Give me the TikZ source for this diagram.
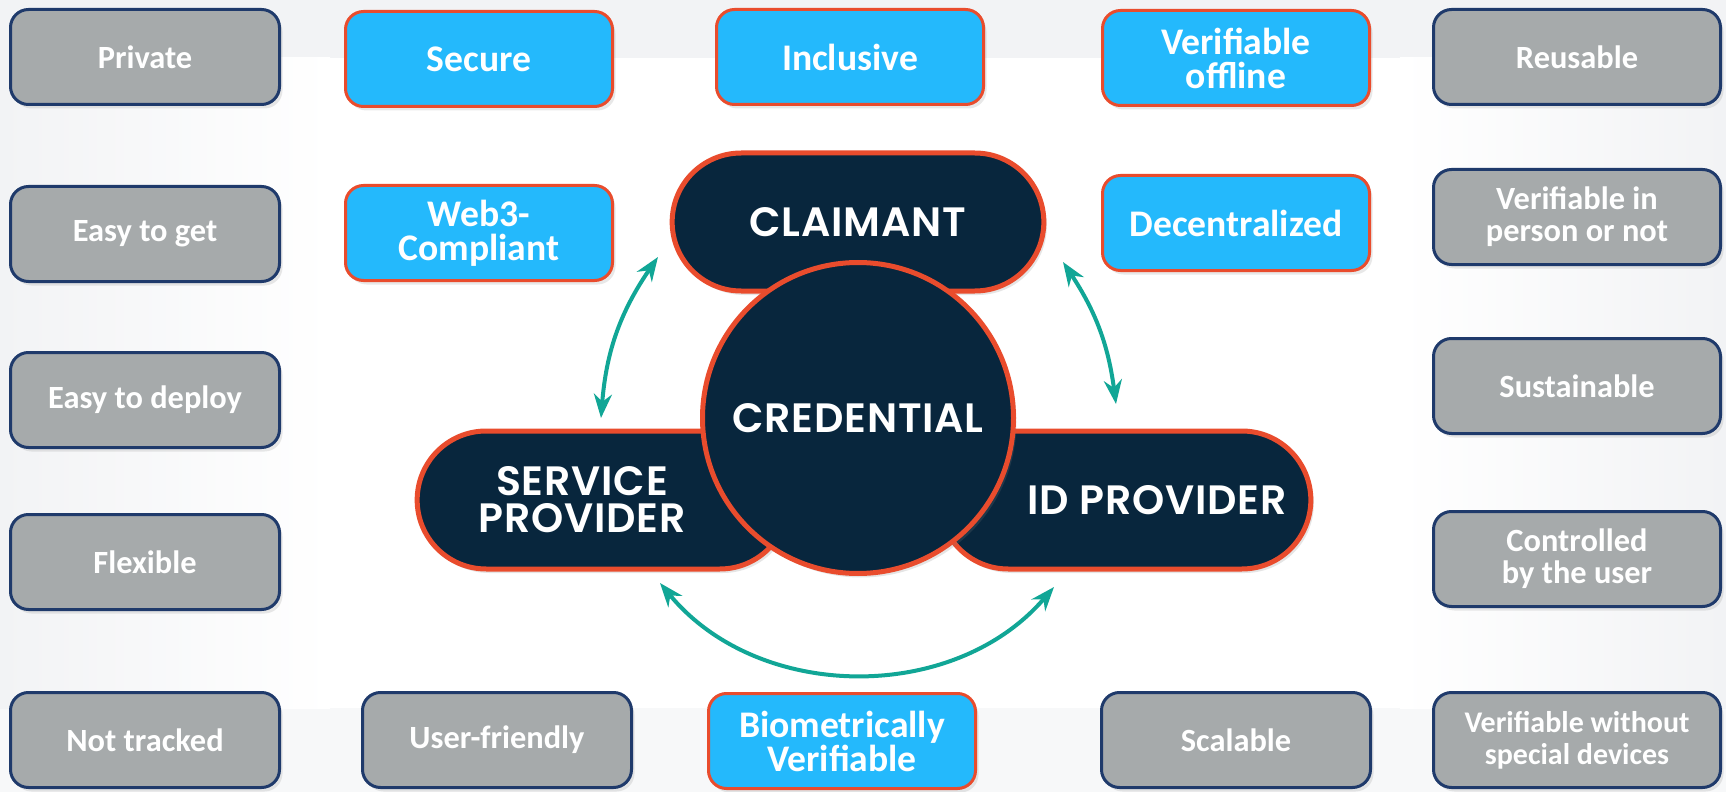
\documentclass[tikz,border=0pt]{standalone}
\usepackage{fontspec}
\setmainfont{Carlito}
\newfontfamily\hubfont{Poppins}[UprightFont=* SemiBold, LetterSpace=2]
\usetikzlibrary{arrows.meta, positioning, shapes.misc, shadows}
\definecolor{cardgray}{RGB}{166,170,171}
\definecolor{cardedge}{RGB}{31,58,107}
\definecolor{featblue}{RGB}{36,185,252}
\definecolor{hubred}{RGB}{233,76,45}
\definecolor{hubnavy}{RGB}{8,38,61}
\definecolor{linkteal}{RGB}{17,166,150}
\definecolor{bgtint}{RGB}{242,243,245}

\begin{document}
\begin{tikzpicture}[
    x=0.5pt, y=-0.5pt,
    card/.style={rounded corners=9pt, line width=1.5pt, minimum height=47.5pt, text=white, align=center,
        drop shadow={shadow xshift=1.5pt, shadow yshift=-2pt, opacity=0.18}},
    trait/.style={card, draw=cardedge, fill=cardgray, minimum width=134.5pt, font=\fontsize{16.2}{16}\selectfont\bfseries},
    traitwide/.style={trait, minimum width=143.5pt},
    feature/.style={card, draw=hubred, fill=featblue, minimum width=133.5pt, font=\fontsize{18.8}{17}\selectfont\bfseries},
    role/.style={rounded rectangle, draw=hubred, fill=hubnavy, line width=2.5pt, minimum width=192.5pt, minimum height=69pt,
        drop shadow={shadow xshift=1.5pt, shadow yshift=-2pt, opacity=0.2}},
    hub/.style={circle, draw=hubred, fill=hubnavy, line width=2.5pt, minimum size=155.5pt,
        drop shadow={shadow xshift=1.5pt, shadow yshift=-2pt, opacity=0.2}},
    roletext/.style={text=white, align=center, font=\hubfont\fontsize{20.5}{18.5}\selectfont},
    link/.style={{Stealth[length=12pt,width=9pt]}-{Stealth[length=12pt,width=9pt]}, draw=linkteal, line width=2pt}
]
    \useasboundingbox (0,0) rectangle (1726,792);
    % Background
    \fill[white] (0,0) rectangle (1726,792);
    \fill[bgtint] (0,0) rectangle (1726,58);
    \fill[bgtint!60] (0,708) rectangle (1726,792);
    \shade[left color=bgtint, right color=white] (0,58) rectangle (330,708);
    \shade[left color=white, right color=bgtint] (1400,58) rectangle (1726,708);

    % Roles round the credential
    \node[role] (claimant) at (858,222) {};
    \node[role] (serviceprov) at (603,500) {};
    \node[role] (idprov) at (1125,500) {};
    \node[hub] (credential) at (858,418) {};
    \node[roletext] at (claimant.center) {CLAIMANT};
    \node[roletext] at ([xshift=-10.5pt]serviceprov.center) {SERVICE\\PROVIDER};
    \node[roletext] at ([xshift=16pt]idprov.center) {ID PROVIDER};
    \node[roletext] at (credential.center) {CREDENTIAL};

    % Exchanges
    \coordinate (spTop) at (601,418);
    \coordinate (clLeft) at (658,257);
    \coordinate (clRight) at (1063,262);
    \coordinate (idTop) at (1116,404);
    \coordinate (spBot) at (660,583);
    \coordinate (idBot) at (1054,587);
    \draw[link] (spTop) to[bend left=15] (clLeft);
    \draw[link] (clRight) to[bend left=13] (idTop);
    \draw[link] (spBot) to[bend right=50] (idBot);

    % Left column
    \node[trait] (private) at (145,57) {Private};
    \node[trait] (easyget) at (145,234) {Easy to get};
    \node[trait] (easydeploy) at (145,400) {Easy to deploy};
    \node[trait] (flexible) at (145,562) {Flexible};
    \node[trait] (nottracked) at (145,740) {Not tracked};

    % Top and inner features
    \node[feature] (secure) at (479,59) {Secure};
    \node[feature] (inclusive) at (850,57) {Inclusive};
    \node[feature] (offline) at (1236,58) {Verifiable\\offline};
    \node[feature] (web3) at (479,233) {Web3-\\Compliant};
    \node[feature] (decentral) at (1236,223) {Decentralized};

    % Bottom row
    \node[trait] (userfriendly) at (497,740) {User-friendly};
    \node[feature] (biometric) at (842,741) {Biometrically\\Verifiable};
    \node[trait] (scalable) at (1236,740) {Scalable};

    % Right column
    \node[traitwide] (reusable) at (1577,57) {Reusable};
    \node[traitwide] (inperson) at (1577,217) {Verifiable in\\person or not};
    \node[traitwide] (sustainable) at (1577,386) {Sustainable};
    \node[traitwide] (controlled) at (1577,559) {Controlled\\by the user};
    \node[traitwide, font=\fontsize{15}{16}\selectfont\bfseries] (nodevices) at (1577,740) {Verifiable without\\special devices};
\end{tikzpicture}
\end{document}
